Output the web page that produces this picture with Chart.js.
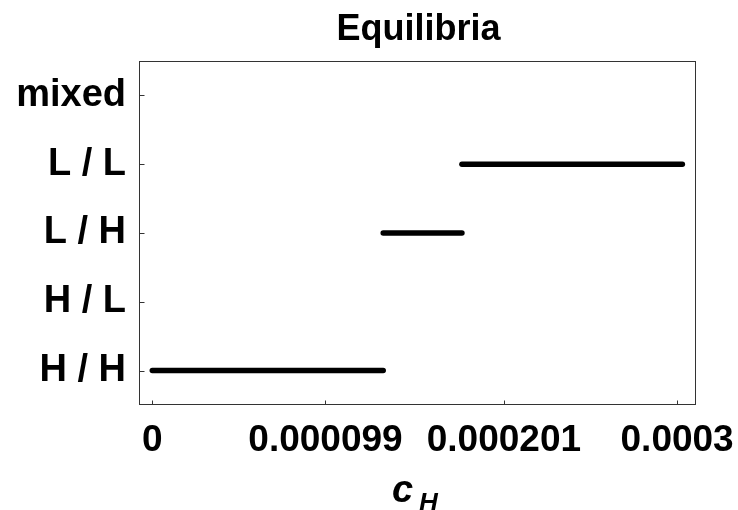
<!DOCTYPE html>
<html>
<head>
<meta charset="utf-8">
<script src="https://cdn.jsdelivr.net/npm/chart.js@4/dist/chart.umd.min.js"></script>
<style>
html,body{margin:0;padding:0;background:#fff;}
#wrap{width:738px;height:510px;}
</style>
</head>
<body>
<div id="wrap"><canvas id="c" width="738" height="510"></canvas></div>
<script>
// Categories on the y axis (value 1..5)
const categories = ["H / H", "H / L", "L / H", "L / L", "mixed"];
const categoryValues = [1, 2, 3, 4, 5];
// x tick values and labels
const xTickValues = [0, 0.000099, 0.000201, 0.0003];
const xTickLabels = ["0", "0.000099", "0.000201", "0.0003"];
// Equilibrium segments: [start, end] of c_H for each category
const segHH = [0, 0.000132];
const segLH = [0.000132, 0.000177];
const segLL = [0.000177, 0.000303];

const titleText = "Equilibria";
const FONT = "'Liberation Sans', Arial, Helvetica, sans-serif";

function seg(range, level) {
  return range.map(v => ({x: v, y: level}));
}

const framePlugin = {
  id: 'frame',
  afterDraw(chart) {
    const ctx = chart.ctx;
    const a = chart.chartArea;
    const xs = chart.scales.x, ys = chart.scales.y;
    ctx.save();
    ctx.strokeStyle = '#333';
    ctx.lineWidth = 1;
    const L = Math.round(a.left) + 0.5, T = Math.round(a.top) + 0.5;
    const R = Math.round(a.right) - 0.5, B = Math.round(a.bottom) - 0.5;
    ctx.strokeRect(L, T, R - L, B - T);
    // inward ticks
    ctx.beginPath();
    xTickValues.forEach(v => {
      const px = Math.round(xs.getPixelForValue(v)) + 0.5;
      ctx.moveTo(px, B);
      ctx.lineTo(px, B - 4);
    });
    categoryValues.forEach(v => {
      const py = Math.round(ys.getPixelForValue(v)) + 0.5;
      ctx.moveTo(L, py);
      ctx.lineTo(L + 5, py);
    });
    ctx.stroke();
    // title
    ctx.fillStyle = '#000';
    ctx.textAlign = 'center';
    ctx.textBaseline = 'alphabetic';
    ctx.font = "bold 36px " + FONT;
    const cx = (a.left + a.right) / 2;
    ctx.fillText(titleText, cx + 1, 40);
    // axis label c_H
    ctx.textAlign = 'left';
    ctx.font = "italic bold 38px " + FONT;
    ctx.fillText("c", 392, 502);
    ctx.font = "italic bold 26px " + FONT;
    ctx.fillText("H", 419, 511);
    ctx.restore();
  }
};

new Chart(document.getElementById('c'), {
  type: 'line',
  data: {
    datasets: [
      {data: seg(segHH, 1)},
      {data: seg(segLH, 3)},
      {data: seg(segLL, 4)}
    ].map(d => Object.assign(d, {
      borderColor: '#000',
      borderWidth: 5.5,
      borderCapStyle: 'round',
      pointRadius: 0,
      fill: false,
      tension: 0
    }))
  },
  options: {
    responsive: false,
    animation: false,
    layout: {padding: {top: 61, right: 42, left: 0, bottom: 0}},
    plugins: {legend: {display: false}, tooltip: {enabled: false}, title: {display: false}},
    scales: {
      x: {
        type: 'linear',
        min: -0.0000076,
        max: 0.0003108,
        afterBuildTicks: s => { s.ticks = xTickValues.map(v => ({value: v})); },
        afterFit: s => { s.height = 105; s.paddingLeft = 0; s.paddingRight = 0; },
        grid: {display: false, drawTicks: false},
        border: {display: false},
        ticks: {
          autoSkip: false,
          maxRotation: 0,
          padding: 14,
          color: '#000',
          font: {family: FONT, size: 37, weight: 'bold'},
          callback: (v) => { const i = xTickValues.indexOf(v); return i >= 0 ? xTickLabels[i] : ''; }
        }
      },
      y: {
        type: 'linear',
        min: 0.5,
        max: 5.5,
        afterBuildTicks: s => { s.ticks = categoryValues.map(v => ({value: v})); },
        afterFit: s => { s.width = 139; s.paddingTop = 0; s.paddingBottom = 0; },
        grid: {display: false, drawTicks: false},
        border: {display: false},
        ticks: {
          autoSkip: false,
          padding: 13,
          color: '#000',
          font: {family: FONT, size: 38, weight: 'bold'},
          callback: (v) => { const i = categoryValues.indexOf(v); return i >= 0 ? categories[i] : ''; }
        }
      }
    }
  },
  plugins: [framePlugin]
});
</script>
</body>
</html>
